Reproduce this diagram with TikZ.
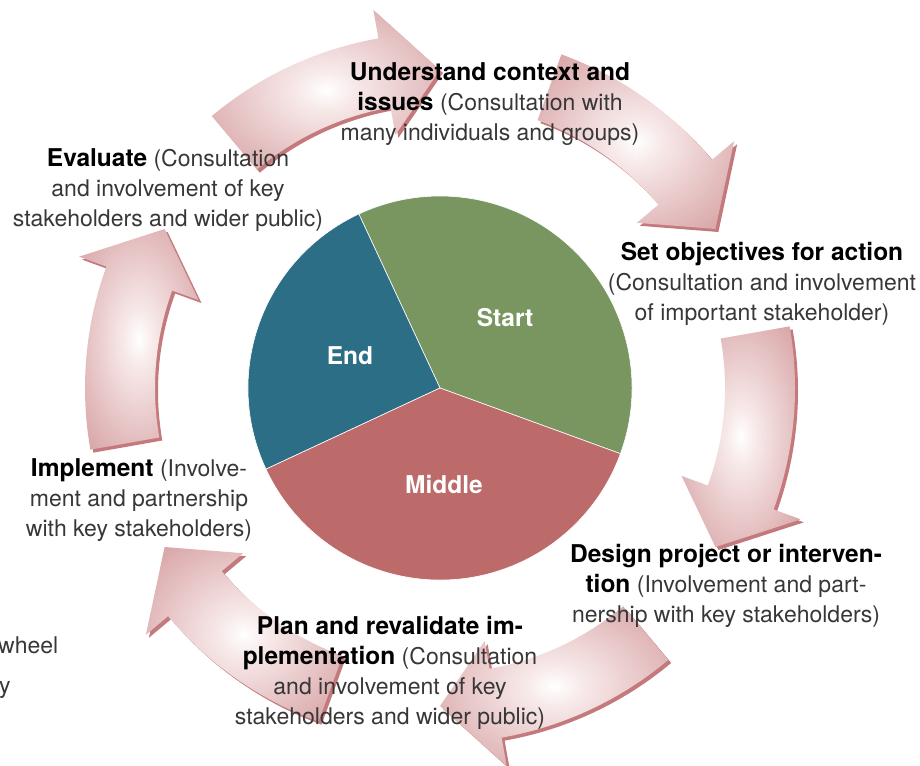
\documentclass[tikz,border=0pt]{standalone}
\usepackage{fontspec}
\setmainfont{TeX Gyre Heros}
\usepackage{tikz}
\usetikzlibrary{shapes,arrows,positioning,calc}
\definecolor{startgreen}{RGB}{122,150,96}
\definecolor{endteal}{RGB}{45,110,135}
\definecolor{middlered}{RGB}{188,106,106}
\definecolor{arrowpink}{RGB}{212,156,158}
\definecolor{arrowlight}{RGB}{248,234,234}
\definecolor{arrowedge}{RGB}{196,122,124}
\definecolor{lighttext}{RGB}{55,55,55}
\pgfdeclareradialshading{arrowglow}{\pgfpoint{0bp}{0bp}}{color(0bp)=(white); color(6bp)=(arrowlight); color(36bp)=(arrowpink); color(50bp)=(arrowpink)}
\newcommand{\hd}[1]{{\fontsize{24.5}{30}\selectfont\bfseries\color{black}#1}}
% curved cycle arrow, #1 = angle of the tip
\newcommand{\cyclearrow}[1]{%
  \fill[arrowedge, shift={($(hub)+(3,-3)$)}]
    ({#1+40}:355) arc[start angle={#1+40}, end angle={#1+10}, radius=355]
    -- ({#1+10}:384) -- (#1:318) -- ({#1+10}:257) -- ({#1+10}:285)
    arc[start angle={#1+10}, end angle={#1+40}, radius=285] -- cycle;
  \shade[shading=arrowglow, shift={(hub)}]
    ({#1+40}:355) arc[start angle={#1+40}, end angle={#1+10}, radius=355]
    -- ({#1+10}:384) -- (#1:318) -- ({#1+10}:257) -- ({#1+10}:285)
    arc[start angle={#1+10}, end angle={#1+40}, radius=285] -- cycle;
}

\begin{document}
\begin{tikzpicture}[x=1pt, y=1pt,
    stage/.style={align=center, inner sep=0pt, text=lighttext,
      font=\fontsize{23}{30}\selectfont},
    phase/.style={text=white, font=\fontsize{24.5}{30}\selectfont\bfseries},
    slice/.style={draw=white, line width=0.6pt},
]
    \useasboundingbox (0,0) rectangle (920,-765);
    \coordinate (hub) at (440,-388);

    % Arrows round the wheel
    \cyclearrow{90}
    \cyclearrow{30}
    \cyclearrow{-30}
    \cyclearrow{-90}
    \cyclearrow{-150}
    \cyclearrow{150}

    % Pie
    \filldraw[slice, fill=startgreen, shift={(hub)}] (0,0) -- (-20:192)
        arc[start angle=-20, end angle=115, radius=192] -- cycle;
    \filldraw[slice, fill=endteal, shift={(hub)}] (0,0) -- (115:192)
        arc[start angle=115, end angle=205, radius=192] -- cycle;
    \filldraw[slice, fill=middlered, shift={(hub)}] (0,0) -- (205:192)
        arc[start angle=205, end angle=340, radius=192] -- cycle;

    \node[phase] (start) at (505,-318) {Start};
    \node[phase] (finish) at (350,-356) {End};
    \node[phase] (middle) at (444,-484) {Middle};

    % Stages
    \node[stage] (understand) at (490,-104) {
        \hd{Understand context and}\\
        \hd{issues} (Consultation with\\
        many individuals and groups)
    };

    \node[stage] (objectives) at (762,-284) {
        \hd{Set objectives for action}\\
        (Consultation and involvement\\
        of important stakeholder)
    };

    \node[stage] (design) at (726,-586) {
        \hd{Design project or interven-}\\
        \hd{tion} (Involvement and part-\\
        nership with key stakeholders)
    };

    \node[stage] (plan) at (390,-673) {
        \hd{Plan and revalidate im-}\\
        \hd{plementation} (Consultation\\
        and involvement of key\\
        stakeholders and wider public)
    };

    \node[stage] (implement) at (139,-500) {
        \hd{Implement} (Involve-\\
        ment and partnership\\
        with key stakeholders)
    };

    \node[stage] (evaluate) at (168,-190) {
        \hd{Evaluate} (Consultation\\
        and involvement of key\\
        stakeholders and wider public)
    };

    % Cut-off caption text
    \node[stage, anchor=base west] (wheel) at (-2,-653) {wheel};
    \node[stage, anchor=base west] (tail) at (-1,-693) {y};
\end{tikzpicture}
\end{document}
